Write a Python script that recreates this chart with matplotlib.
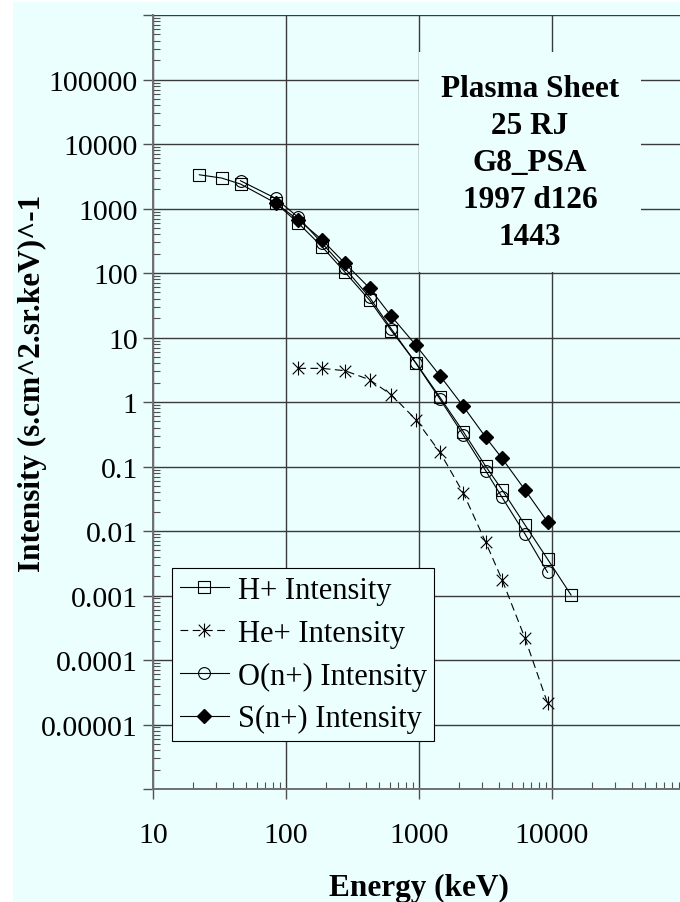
import matplotlib.pyplot as plt
from matplotlib.path import Path
from matplotlib.ticker import LogLocator, NullFormatter

# Energy channels (keV) and intensities
energy_h = [22.3, 32.9, 45.5, 83.6, 123.6, 186.6, 277.7, 424.8, 621, 949,
            1438, 2153, 3174, 4210, 6270, 9250, 13900]
int_h = [3340, 2970, 2400, 1217, 596, 256, 103, 38, 12.7, 4.03,
         1.18, 0.347, 0.1007, 0.0437, 0.0124, 0.00368, 0.00102]

energy_he = [123.6, 186.6, 277.7, 424.8, 621, 949, 1438, 2153, 3174, 4210, 6270, 9250]
int_he = [3.33, 3.33, 3.06, 2.22, 1.29, 0.532, 0.166, 0.0388, 0.00668, 0.00176,
          2.17e-4, 2.15e-5]

energy_o = [45.5, 83.6, 123.6, 186.6, 277.7, 424.8, 621, 949, 1438, 2153,
            3174, 4210, 6270, 9250]
int_o = [2700, 1439, 731, 290, 118, 42, 13.5, 3.98, 1.11, 0.308,
         0.086, 0.0333, 0.00898, 0.00229]

energy_s = [83.6, 123.6, 186.6, 277.7, 424.8, 621, 949, 1438, 2153, 3174,
            4210, 6270, 9250]
int_s = [1205, 670, 328, 141, 58.5, 21.3, 7.57, 2.56, 0.857, 0.284,
         0.134, 0.0433, 0.0139]

y_ticks = [1e-6, 1e-5, 1e-4, 1e-3, 1e-2, 1e-1, 1, 10, 100, 1000, 10000, 100000, 1e6]
y_tick_labels = ['', '0.00001', '0.0001', '0.001', '0.01', '0.1', '1', '10',
                 '100', '1000', '10000', '100000', '']
x_ticks = [10, 100, 1000, 10000, 100000]
x_tick_labels = ['10', '100', '1000', '10000', '']

info_text = 'Plasma Sheet\n25 RJ\nG8_PSA\n1997 d126\n1443'

bg = '#EBFFFF'
plt.rcParams['font.family'] = ['Liberation Serif', 'DejaVu Serif']

fig = plt.figure(figsize=(6.8, 9.03), dpi=100, facecolor='white')
fig.patches.append(plt.Rectangle((13 / 680, 0), 1, 1 - 3 / 903,
                                 transform=fig.transFigure, facecolor=bg,
                                 edgecolor='none', zorder=-10))
ax = fig.add_axes([0.225, 0.1251, 0.7824, 0.8571])
ax.set_facecolor(bg)

ax.set_xscale('log')
ax.set_yscale('log')
ax.set_xlim(10, 1e5)
ax.set_ylim(1e-6, 1e6)

# asterisk marker: X with a vertical bar
star = Path([(-1, -1), (1, 1), (-1, 1), (1, -1), (0, -1.2), (0, 1.2)],
            [Path.MOVETO, Path.LINETO] * 3)

lw = 0.8
ax.plot(energy_h, int_h, color='black', lw=lw, marker='s', ms=8.5,
        mfc='none', mec='black', mew=0.8, label='H+ Intensity', zorder=3)
ax.plot(energy_he, int_he, color='black', lw=lw, ls=(0, (7, 4)), marker=star,
        ms=10, mfc='none', mec='black', mew=0.8, label='He+ Intensity', zorder=3)
ax.plot(energy_o, int_o, color='black', lw=lw, marker='o', ms=8.5,
        mfc='none', mec='black', mew=0.8, label='O(n+) Intensity', zorder=3)
ax.plot(energy_s, int_s, color='black', lw=lw, marker='D', ms=7.5,
        mfc='black', mec='black', label='S(n+) Intensity', zorder=4)

ax.set_yticks(y_ticks)
ax.set_yticklabels(y_tick_labels)
ax.set_xticks(x_ticks)
ax.set_xticklabels(x_tick_labels)
ax.xaxis.set_minor_locator(LogLocator(base=10, subs=range(2, 10), numticks=20))
ax.yaxis.set_minor_locator(LogLocator(base=10, subs=range(2, 10), numticks=20))
ax.xaxis.set_minor_formatter(NullFormatter())
ax.yaxis.set_minor_formatter(NullFormatter())
ax.grid(True, which='major', color='#3a3a3a', lw=1.0)
ax.set_axisbelow(True)

for side in ['top', 'right']:
    ax.spines[side].set_visible(False)
for side in ['left', 'bottom']:
    ax.spines[side].set_color('#707070')
    ax.spines[side].set_linewidth(1.4)

ax.tick_params(which='major', direction='out', length=7, width=1.0,
               color='#505050', labelsize=21.5)
ax.tick_params(which='minor', direction='in', length=5, width=0.8,
               color='#505050')
ax.tick_params(axis='y', which='major', pad=4)
ax.tick_params(axis='x', which='major', pad=17)

ax.set_xlabel('Energy (keV)', fontsize=22.5, fontweight='bold')
ax.xaxis.set_label_coords(0.5, -0.108)
ax.set_ylabel('Intensity (s.cm^2.sr.keV)^-1', fontsize=22.5, fontweight='bold',
              va='center')
ax.yaxis.set_label_coords(-0.226, 0.526)

ax.text(0.7086, 0.924, info_text, transform=ax.transAxes, ha='center', va='top',
        fontsize=22.5, fontweight='bold', linespacing=1.36, zorder=5,
        bbox=dict(boxstyle='square,pad=0.7', facecolor=bg, edgecolor='none'))

leg = ax.legend(loc='lower left', bbox_to_anchor=(0.0357, 0.062), fontsize=22,
                frameon=True, fancybox=False, framealpha=1, facecolor=bg,
                edgecolor='black', handlelength=1.6, handletextpad=0.3,
                labelspacing=0.45, borderpad=0.25, borderaxespad=0)
leg.get_frame().set_linewidth(0.8)
leg.set_zorder(6)

fig.savefig('out.png', dpi=100, facecolor=fig.get_facecolor())
